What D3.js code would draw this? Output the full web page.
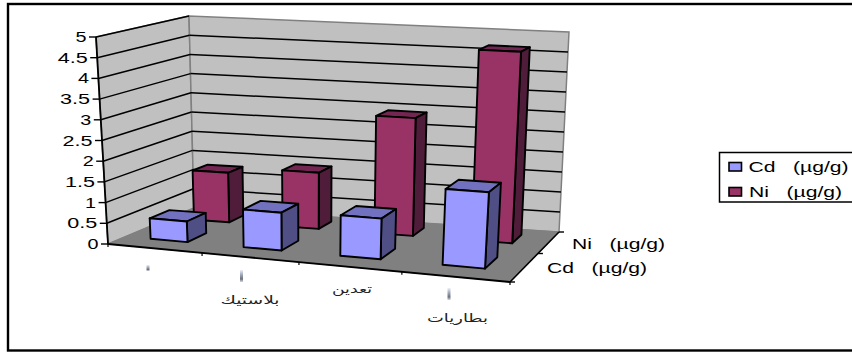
<!DOCTYPE html>
<html><head><meta charset="utf-8">
<script src="https://cdnjs.cloudflare.com/ajax/libs/d3/7.8.5/d3.min.js"></script>
<style>html,body{margin:0;background:#fff}svg{display:block}text{font-family:"Liberation Sans",Arial,sans-serif;fill:#000}</style>
</head><body><svg id="c" width="852" height="352"></svg>
<script>
const categories = ["", "بلاستيك", "تعدين", "بطاريات"];
const seriesNames = ["Cd   (µg/g)", "Ni   (µg/g)"];
const cdValues = [0.5, 0.9, 0.95, 1.75];
const niValues = [1.25, 1.4, 2.9, 4.65];
const yTicks = [0,0.5,1,1.5,2,2.5,3,3.5,4,4.5,5];

const svg = d3.select("#c");
const palette = [
  {front:"#9999ff", side:"#4f4f86", top:"#7171bf"},
  {front:"#993366", side:"#4f1c3a", top:"#732652"}
];
const defs = svg.append("defs");
const grad = defs.append("linearGradient").attr("id","smudge").attr("x1",0).attr("y1",0).attr("x2",0).attr("y2",1);
[[0,"#eef0f4"],[0.35,"#a8b0c4"],[0.75,"#6c7078"],[1,"#d8dae0"]].forEach(([o,c])=>grad.append("stop").attr("offset",o).attr("stop-color",c));

function quad(q){
  return (u,v)=>{
    const a=[q[0][0]+(q[1][0]-q[0][0])*u,q[0][1]+(q[1][1]-q[0][1])*u];
    const b=[q[3][0]+(q[2][0]-q[3][0])*u,q[3][1]+(q[2][1]-q[3][1])*u];
    return [a[0]+(b[0]-a[0])*v,a[1]+(b[1]-a[1])*v];
  };
}
const floorQ = quad([[108,244],[510,282],[559,232],[194,208]]);
const topQ = quad([[96,37],[524,57],[569,32],[189,16]]);
const xs = d3.scaleLinear().domain([0,1,2,3,4]).range([0,0.234,0.475,0.731,1]);
const zs = d3.scaleLinear().domain([0,1,2]).range([0,0.57,1]);
const ys = d3.scaleLinear().domain([0,5]).range([0,1]);
function P(x,z,val){
  const u=xs(x),v=zs(z),t=ys(val),a=floorQ(u,v),b=topQ(u,v);
  return [a[0]+(b[0]-a[0])*t,a[1]+(b[1]-a[1])*t];
}
const path = pts => "M"+pts.map(p=>p[0].toFixed(1)+","+p[1].toFixed(1)).join("L")+"Z";
const line = (a,b,sw,col)=>svg.append("line").attr("x1",a[0]).attr("y1",a[1]).attr("x2",b[0]).attr("y2",b[1]).attr("stroke",col||"#000").attr("stroke-width",sw);
function wideText(t,x,y,size,width,anchor,family){
  const s=svg.append("text").attr("y",y).attr("font-size",size).style("white-space","pre").text(t);
  if(family) s.style("font-family",family);
  s.attr("textLength",width).attr("lengthAdjust","spacingAndGlyphs");
  s.attr("x",anchor==="end"?x-width:anchor==="middle"?x-width/2:x);
  return s;
}

// outer frame: right side runs off the picture
svg.append("rect").attr("x",8).attr("y",4).attr("width",860).attr("height",346.5).attr("fill","#fff").attr("stroke","#000").attr("stroke-width",2.4);

// walls and floor
svg.append("path").attr("d",path([P(0,0,0),P(0,2,0),P(0,2,5),P(0,0,5)])).attr("fill","#c0c0c0").attr("stroke","#808080").attr("stroke-width",1.5);
svg.append("path").attr("d",path([P(0,2,0),P(4,2,0),P(4,2,5),P(0,2,5)])).attr("fill","#c0c0c0").attr("stroke","#808080").attr("stroke-width",1.5);
svg.append("path").attr("d",path([P(0,0,0),P(4,0,0),P(4,2,0),P(0,2,0)])).attr("fill","#808080").attr("stroke","#808080");

// gridlines
yTicks.slice(1).forEach(t=>{
  line(P(0,0,t),P(0,2,t),1.5);
  if(t<5) line(P(0,2,t),P(4,2,t),1.5);
});

// bars, rear series first
function bar(i,s,val){
  const c=palette[s];
  const x0=i+0.27,x1=i+0.67,z0=s+0.36,z1=s+0.77;
  const g=svg.append("g").attr("stroke","#000").attr("stroke-width",1.9).attr("stroke-linejoin","round");
  g.append("path").attr("d",path([P(x0,z0,val),P(x1,z0,val),P(x1,z1,val),P(x0,z1,val)])).attr("fill",c.top);
  g.append("path").attr("d",path([P(x1,z0,0),P(x1,z1,0),P(x1,z1,val),P(x1,z0,val)])).attr("fill",c.side);
  g.append("path").attr("d",path([P(x0,z0,0),P(x1,z0,0),P(x1,z0,val),P(x0,z0,val)])).attr("fill",c.front);
}
niValues.forEach((v,i)=>bar(i,1,v));
cdValues.forEach((v,i)=>bar(i,0,v));

// axes
line(P(0,0,0),P(0,0,5),1.8);
yTicks.forEach(t=>{
  const p=P(0,0,t), label=String(t);
  line([p[0]-7,p[1]],p,1.4);
  wideText(label,p[0]-9.5,p[1]+5,14,label.length>1?30:11,"end");
});
line(P(0,0,0),P(4,0,0),1.8);
line(P(4,0,0),P(4,2,0),1.6);
d3.range(0,5).forEach(i=>{const p=P(i,0,0);line(p,[p[0],p[1]+3],1.2);});
d3.range(0,3).forEach(i=>{const p=P(4,i,0);line(p,[p[0]+5,p[1]],1.4);});

// category labels
const smudges = [[148,265,6],[241.5,270,12],null,[449,288,12]];
const labelPos = [null,[250,304,59],[352,293,40],[457.5,322,61]];
categories.forEach((c,i)=>{
  if(smudges[i]) svg.append("rect").attr("x",smudges[i][0]-1.5).attr("y",smudges[i][1]).attr("width",3).attr("height",smudges[i][2]).attr("fill","url(#smudge)");
  if(c) wideText(c,labelPos[i][0],labelPos[i][1],11.5,labelPos[i][2],"middle","'DejaVu Sans'").style("fill","#222");
});

// series labels on depth axis
wideText(seriesNames[0],547,273,14,100);
wideText(seriesNames[1],572,249,14,93);

// legend
svg.append("rect").attr("x",719.5).attr("y",152.5).attr("width",160).attr("height",49.5).attr("fill","#fff").attr("stroke","#000").attr("stroke-width",1.5);
seriesNames.forEach((n,i)=>{
  const y=166.5+i*25;
  svg.append("rect").attr("x",729).attr("y",y-4).attr("width",12.5).attr("height",8.5).attr("fill",palette[i].front).attr("stroke","#000").attr("stroke-width",1.6);
  wideText(n,i?749:748.5,y+5,14,i?93:100);
});
</script></body></html>
